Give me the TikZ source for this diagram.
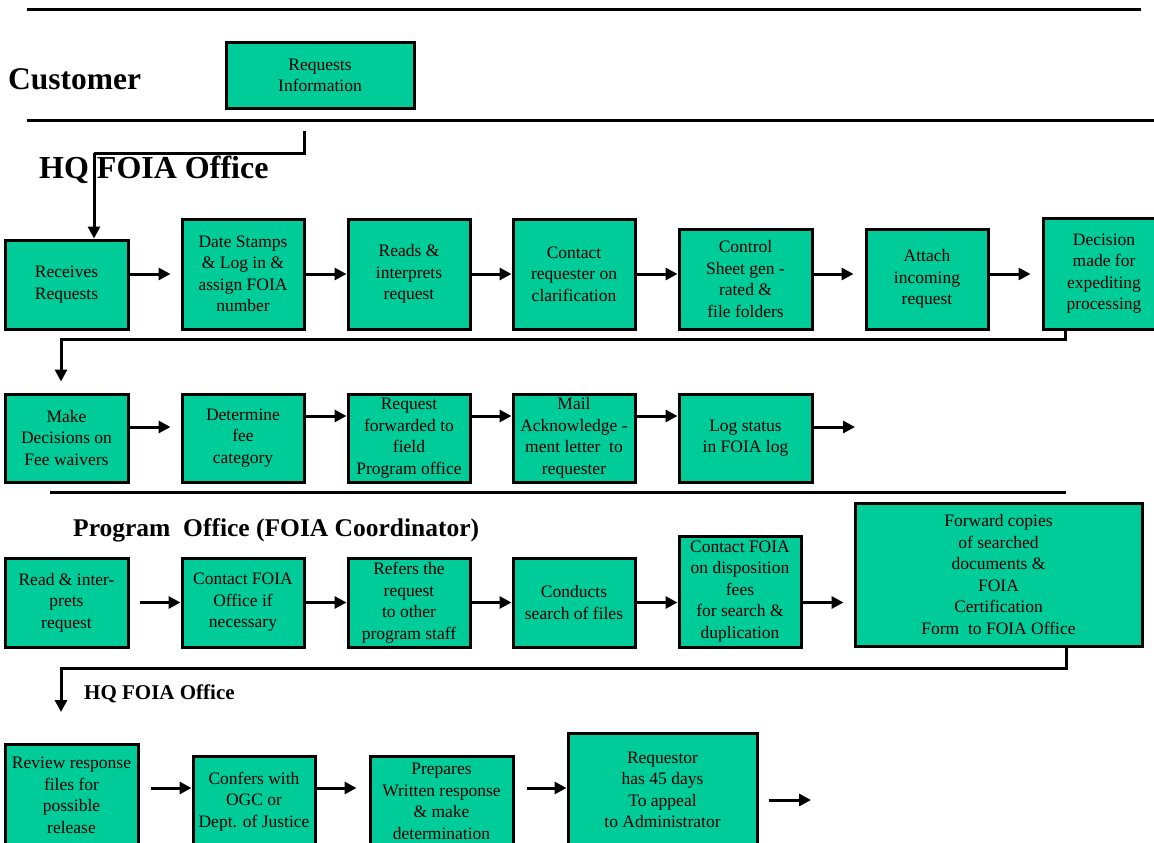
\documentclass[tikz,border=0pt]{standalone}
\usepackage{fontspec}
\setmainfont{Liberation Serif}
\usetikzlibrary{arrows.meta,calc}
\definecolor{boxgreen}{RGB}{0,204,153}
\tikzset{
  box/.style={draw, line width=3pt, fill=boxgreen, align=center, inner sep=0pt,
    font=\fontsize{17.5}{21.5}\selectfont},
  rule/.style={line width=3pt},
  arr/.style={line width=3pt, -{Triangle[length=12pt,width=12pt]}},
  lane/.style={font=\bfseries, anchor=base west, inner sep=0pt}
}
\begin{document}
\begin{tikzpicture}[x=1pt,y=-1pt]
\useasboundingbox (0,0) rectangle (1154,843);
\clip (0,0) rectangle (1154,843);
% lane rules
\draw[rule] (27,10) -- (1141,10);
\draw[rule] (27,120) -- (1160,120);
\draw[rule] (50,492) -- (1066,492);
% lane labels
\node[lane, font=\bfseries\fontsize{31.5}{36}\selectfont] (lcust) at (8,89) {Customer};
\node[lane, font=\bfseries\fontsize{32}{36}\selectfont] (lhq) at (39,178) {HQ FOIA Office};
\node[lane, font=\bfseries\fontsize{25.5}{30}\selectfont] (lprog) at (73,536) {Program\ \ Office (FOIA Coordinator)};
\node[lane, font=\bfseries\fontsize{21}{25}\selectfont] (lhq2) at (84,699) {HQ FOIA Office};
% customer
\node[box, minimum width=188pt, minimum height=65pt] (c1) at (320,75.5) {Requests\\Information};
% row 1
\node[box, minimum width=123pt, minimum height=89pt] (a1) at (66.5,284.5) {Receives\\Requests};
\node[box, minimum width=122pt, minimum height=110pt] (a2) at (243,274) {Date Stamps\\\& Log in \&\\assign FOIA\\number};
\node[box, minimum width=122pt, minimum height=110pt] (a3) at (409,274) {Reads \&\\interprets\\request};
\node[box, minimum width=122pt, minimum height=110pt] (a4) at (574,274) {Contact\\requester on\\clarification};
\node[box, minimum width=133pt, minimum height=100pt] (a5) at (745.5,279) {Control\\Sheet gen -\\rated \&\\file folders};
\node[box, minimum width=122pt, minimum height=100pt] (a6) at (927,279) {Attach\\incoming\\request};
\node[box, minimum width=122pt, minimum height=111pt] (a7) at (1104,273.5) {Decision\\made for\\expediting\\processing};
% row 2
\node[box, minimum width=123pt, minimum height=88pt] (b1) at (66.5,438) {Make\\Decisions on\\Fee waivers};
\node[box, minimum width=122pt, minimum height=88pt] (b2) at (243,438) {Determine\\fee\\category};
\node[box, minimum width=122pt, minimum height=88pt] (b3) at (409,438) {Request\\forwarded to\\field\\Program office};
\node[box, minimum width=122pt, minimum height=88pt] (b4) at (574,438) {Mail\\Acknowledge -\\ment letter\ \ to\\requester};
\node[box, minimum width=133pt, minimum height=88pt] (b5) at (745.5,438) {Log status\\in FOIA log};
% row 3
\node[box, minimum width=123pt, minimum height=89pt] (d1) at (66.5,602.5) {Read \& inter-\\prets\\request};
\node[box, minimum width=122pt, minimum height=89pt] (d2) at (243,602.5) {Contact FOIA\\Office if\\necessary};
\node[box, minimum width=122pt, minimum height=89pt] (d3) at (409,602.5) {Refers the\\request\\to other\\program staff};
\node[box, minimum width=122pt, minimum height=89pt] (d4) at (574,602.5) {Conducts\\search of files};
\node[box, minimum width=122pt, minimum height=111pt] (d5) at (740,591.5) {Contact FOIA\\on disposition\\fees\\for search \&\\duplication};
\node[box, minimum width=287pt, minimum height=143pt] (d6) at (998.5,574.5) {Forward copies\\of searched\\documents \&\\FOIA\\Certification\\Form\ \ to FOIA Office};
% row 4
\node[box, minimum width=133pt, minimum height=103pt] (e1) at (71.5,795.5) {Review response\\files for\\possible\\release};
\node[box, minimum width=122pt, minimum height=91pt] (e2) at (254,801.5) {Confers with\\OGC or\\Dept. of Justice};
\node[box, minimum width=143pt, minimum height=91pt] (e3) at (441.5,801.5) {Prepares\\Written response\\\& make\\determination};
\node[box, minimum width=189pt, minimum height=114pt] (e4) at (662.5,790) {Requestor\\has 45 days\\To appeal\\to Administrator};
% helper coordinates
\coordinate (k1) at (304,131);
\coordinate (j1) at (94,153);
\coordinate (j2) at (1065,339);
\coordinate (j3) at (61,339);
\coordinate (j4) at (1066,668);
\coordinate (j5) at (61,668);
\coordinate (t6) at (61,712);
\coordinate (r2a) at (0,427);
\coordinate (r2b) at (0,416);
\coordinate (t2) at (855,427);
\coordinate (r4a) at (0,788);
\coordinate (r4b) at (0,800);
\coordinate (t4) at (811,800);
% connectors between lanes
\draw[rule] (k1) |- (j1);
\draw[arr] (j1) -- (j1 |- a1.north);
\draw[arr, shorten >=11pt] (j2 |- a7.south) -- (j2) -- (j3) -- (j3 |- b1.north);
\draw[arr] (j4 |- d6.south) -- (j4) -- (j5) -- (t6);
% row 1 arrows
\draw[arr, shorten >=10pt] (a1.east |- a2.west) -- (a2.west);
\draw[arr] (a2) -- (a3);
\draw[arr] (a3) -- (a4);
\draw[arr] (a4.east) -- (a5.west |- a4.east);
\draw[arr, shorten >=11pt] (a5.east |- a4.east) -- (a6.west |- a4.east);
\draw[arr, shorten >=11pt] (a6.east |- a4.east) -- (a7.west |- a4.east);
% row 2 arrows
\draw[arr, shorten >=10pt] (b1.east |- r2a) -- (b2.west |- r2a);
\draw[arr] (b2.east |- r2b) -- (b3.west |- r2b);
\draw[arr] (b3.east |- r2b) -- (b4.west |- r2b);
\draw[arr] (b4.east |- r2b) -- (b5.west |- r2b);
\draw[arr] (b5.east |- r2a) -- (t2);
% row 3 arrows
\draw[arr, shorten <=10pt] (d1) -- (d2);
\draw[arr] (d2) -- (d3);
\draw[arr] (d3) -- (d4);
\draw[arr] (d4.east) -- (d5.west |- d4.east);
\draw[arr, shorten >=10pt] (d5.east |- d4.east) -- (d6.west |- d4.east);
% row 4 arrows
\draw[arr, shorten <=11pt] (e1.east |- r4a) -- (e2.west |- r4a);
\draw[arr, shorten >=12pt] (e2.east |- r4a) -- (e3.west |- r4a);
\draw[arr, shorten <=12pt] (e3.east |- r4a) -- (e4.west |- r4a);
\draw[arr, shorten <=10pt] (e4.east |- r4b) -- (t4);
\end{tikzpicture}
\end{document}
